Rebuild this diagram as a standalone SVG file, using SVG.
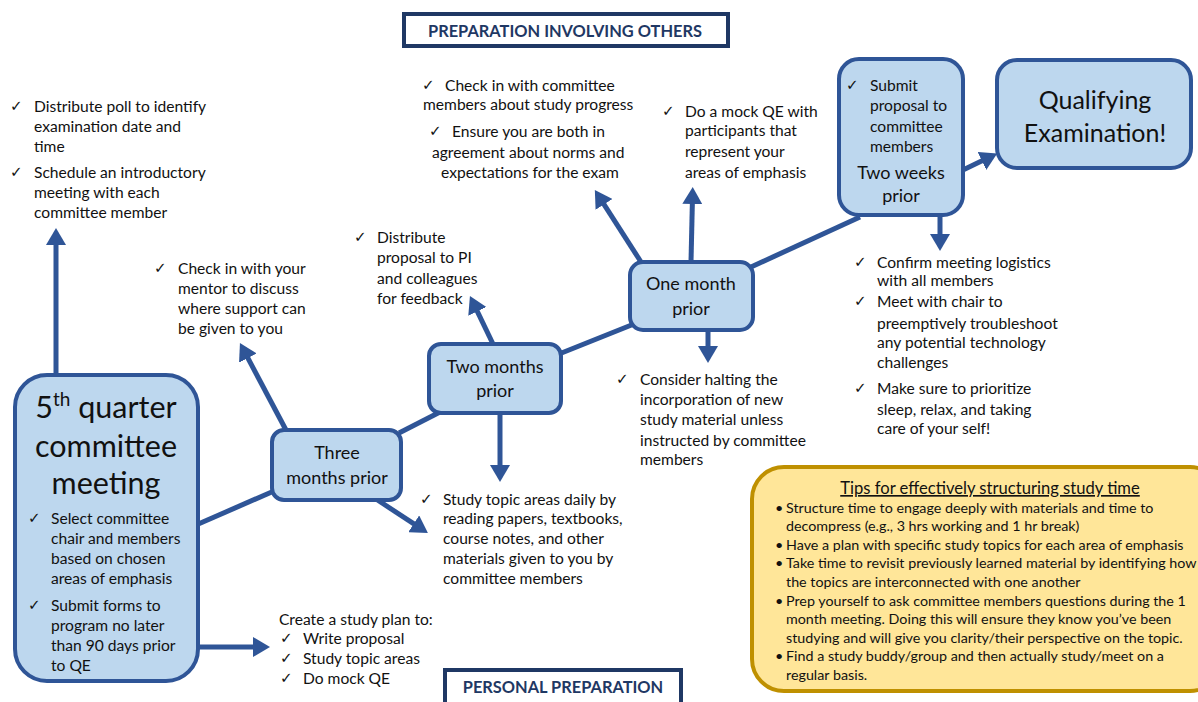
<svg xmlns="http://www.w3.org/2000/svg" width="1198" height="702" viewBox="0 0 1198 702">
<defs>
<style>
.node{fill:#BDD7EE;stroke:#2F5597;stroke-width:4}
.hdr{fill:#fff;stroke:#1F3864;stroke-width:4}
.hdrt{font-family:Lato,"Liberation Sans",sans-serif;font-weight:bold;font-size:16.4px;fill:#1F3864;text-anchor:middle}
.t{font-family:Lato,"Liberation Sans",sans-serif;font-size:15.6px;fill:#111}
.nt{font-family:Lato,"Liberation Sans",sans-serif;font-size:18px;fill:#111;text-anchor:middle}
.big{font-family:Lato,"Liberation Sans",sans-serif;font-size:30.5px;fill:#111;text-anchor:middle}
.qe{font-family:Lato,"Liberation Sans",sans-serif;font-size:25px;fill:#111;text-anchor:middle}
.tip{font-family:Lato,"Liberation Sans",sans-serif;font-size:14.3px;fill:#111}
.tiph{font-family:Lato,"Liberation Sans",sans-serif;font-size:16.6px;fill:#111;text-anchor:middle;text-decoration:underline}
.ck{font-family:"DejaVu Sans",sans-serif;font-size:15px;fill:#111}
.ln{stroke:#2F5597;stroke-width:5;fill:none}
.ar{stroke:#2F5597;stroke-width:5;fill:none;marker-end:url(#ah)}
</style>
<marker id="ah" markerUnits="userSpaceOnUse" markerWidth="20" markerHeight="20" refX="3" refY="10" orient="auto" viewBox="0 0 20 20">
<path d="M0,0 L17,10 L0,20 z" fill="#2F5597"/>
</marker>
</defs>

<g id="connectors">
<line class="ln" x1="196" y1="525" x2="274" y2="491"/>
<line class="ln" x1="399" y1="433" x2="442" y2="411"/>
<line class="ln" x1="559" y1="354" x2="634" y2="324"/>
<line class="ln" x1="751" y1="267" x2="860" y2="217"/>
<line class="ar" x1="56" y1="375" x2="56" y2="242"/>
<line class="ar" x1="286" y1="430" x2="246.5" y2="355.4"/>
<line class="ar" x1="493" y1="344" x2="476" y2="308.6"/>
<line class="ar" x1="500" y1="413" x2="500" y2="468"/>
<line class="ar" x1="376" y1="499" x2="416.2" y2="525.4"/>
<line class="ar" x1="196" y1="647" x2="256" y2="647"/>
<line class="ar" x1="641" y1="262" x2="602.4" y2="201.9"/>
<line class="ar" x1="691" y1="262" x2="692.4" y2="201"/>
<line class="ar" x1="708" y1="330" x2="708" y2="349"/>
<line class="ar" x1="940" y1="215" x2="940" y2="237"/>
<line class="ar" x1="963" y1="170" x2="984.6" y2="159.6"/>
</g>

<g id="header-others">
<rect class="hdr" x="404" y="14" width="324" height="32"/>
<text class="hdrt" x="565" y="37">PREPARATION INVOLVING OTHERS</text>
</g>

<g id="header-personal">
<rect class="hdr" x="445" y="670" width="236" height="40"/>
<text class="hdrt" x="563" y="693">PERSONAL PREPARATION</text>
</g>

<g id="node-5th">
<rect class="node" x="15" y="375" width="183" height="306" rx="32"/>
<text class="big" x="106" y="418">5<tspan style="font-size:19px" dy="-12">th</tspan><tspan dy="12"> quarter</tspan></text>
<text class="big" x="106" y="457">committee</text>
<text class="big" x="106" y="494">meeting</text>
<text class="ck" x="28" y="523">✓</text>
<text class="t" x="51" y="524">Select committee</text>
<text class="t" x="51" y="544">chair and members</text>
<text class="t" x="51" y="564">based on chosen</text>
<text class="t" x="51" y="584">areas of emphasis</text>
<text class="ck" x="28" y="610">✓</text>
<text class="t" x="51" y="611">Submit forms to</text>
<text class="t" x="51" y="631">program no later</text>
<text class="t" x="51" y="651">than 90 days prior</text>
<text class="t" x="51" y="671">to QE</text>
</g>

<g id="node-three">
<rect class="node" x="272" y="430" width="129" height="70" rx="12"/>
<text class="nt" x="337" y="459">Three</text>
<text class="nt" x="337" y="484">months prior</text>
</g>

<g id="node-two">
<rect class="node" x="429" y="344" width="132" height="69" rx="12"/>
<text class="nt" x="495" y="373">Two months</text>
<text class="nt" x="495" y="397">prior</text>
</g>

<g id="node-one">
<rect class="node" x="630" y="262" width="123" height="68" rx="13"/>
<text class="nt" x="691" y="290">One month</text>
<text class="nt" x="691" y="315">prior</text>
</g>

<g id="node-twoweeks">
<rect class="node" x="839" y="59" width="124" height="156" rx="20"/>
<text class="ck" x="846" y="90">✓</text>
<text class="t" x="870" y="91">Submit</text>
<text class="t" x="870" y="111">proposal to</text>
<text class="t" x="870" y="132">committee</text>
<text class="t" x="870" y="152">members</text>
<text class="nt" x="901" y="179">Two weeks</text>
<text class="nt" x="901" y="202">prior</text>
</g>

<g id="node-qe">
<rect class="node" x="997" y="60" width="194" height="108" rx="20"/>
<text class="qe" x="1095" y="109">Qualifying</text>
<text class="qe" x="1095" y="142">Examination!</text>
</g>

<g id="text-topleft">
<text class="ck" x="10" y="111">✓</text>
<text class="t" x="34" y="112">Distribute poll to identify</text>
<text class="t" x="34" y="132">examination date and</text>
<text class="t" x="34" y="152">time</text>
<text class="ck" x="10" y="177">✓</text>
<text class="t" x="34" y="178">Schedule an introductory</text>
<text class="t" x="34" y="198">meeting with each</text>
<text class="t" x="34" y="218">committee member</text>
</g>

<g id="text-mentor">
<text class="ck" x="154" y="273">✓</text>
<text class="t" x="178" y="274">Check in with your</text>
<text class="t" x="178" y="294">mentor to discuss</text>
<text class="t" x="178" y="314">where support can</text>
<text class="t" x="178" y="334">be given to you</text>
</g>

<g id="text-distribute">
<text class="ck" x="354" y="242">✓</text>
<text class="t" x="377" y="243">Distribute</text>
<text class="t" x="377" y="263">proposal to PI</text>
<text class="t" x="377" y="284">and colleagues</text>
<text class="t" x="377" y="304">for feedback</text>
</g>

<g id="text-checkin">
<text class="ck" x="422" y="90">✓</text>
<text class="t" x="445" y="91">Check in with committee</text>
<text class="t" x="423" y="110">members about study progress</text>
<text class="ck" x="429" y="136">✓</text>
<text class="t" x="452" y="137">Ensure you are both in</text>
<text class="t" x="432" y="158">agreement about norms and</text>
<text class="t" x="441" y="178">expectations for the exam</text>
</g>

<g id="text-mock">
<text class="ck" x="662" y="116">✓</text>
<text class="t" x="685" y="117">Do a mock QE with</text>
<text class="t" x="685" y="136">participants that</text>
<text class="t" x="685" y="157">represent your</text>
<text class="t" x="685" y="178">areas of emphasis</text>
</g>

<g id="text-confirm">
<text class="ck" x="854" y="267">✓</text>
<text class="t" x="877" y="268">Confirm meeting logistics</text>
<text class="t" x="877" y="286">with all members</text>
<text class="ck" x="854" y="306">✓</text>
<text class="t" x="877" y="307">Meet with chair to</text>
<text class="t" x="877" y="329">preemptively troubleshoot</text>
<text class="t" x="877" y="348">any potential technology</text>
<text class="t" x="877" y="368">challenges</text>
<text class="ck" x="854" y="393">✓</text>
<text class="t" x="877" y="394">Make sure to prioritize</text>
<text class="t" x="877" y="415">sleep, relax, and taking</text>
<text class="t" x="877" y="434">care of your self!</text>
</g>

<g id="text-consider">
<text class="ck" x="616" y="384">✓</text>
<text class="t" x="640" y="385">Consider halting the</text>
<text class="t" x="640" y="405">incorporation of new</text>
<text class="t" x="640" y="425">study material unless</text>
<text class="t" x="640" y="446">instructed by committee</text>
<text class="t" x="640" y="465">members</text>
</g>

<g id="text-study">
<text class="ck" x="420" y="504">✓</text>
<text class="t" x="443" y="505">Study topic areas daily by</text>
<text class="t" x="443" y="524">reading papers, textbooks,</text>
<text class="t" x="443" y="544">course notes, and other</text>
<text class="t" x="443" y="564">materials given to you by</text>
<text class="t" x="443" y="584">committee members</text>
</g>

<g id="text-plan">
<text class="t" x="279" y="625">Create a study plan to:</text>
<text class="ck" x="280" y="643">✓</text>
<text class="t" x="303" y="644">Write proposal</text>
<text class="ck" x="280" y="663">✓</text>
<text class="t" x="303" y="664">Study topic areas</text>
<text class="ck" x="280" y="683">✓</text>
<text class="t" x="303" y="684">Do mock QE</text>
</g>

<g id="tips">
<rect x="752" y="467" width="470" height="224" rx="32" fill="#FFE699" stroke="#BF9000" stroke-width="4"/>
<text class="tiph" x="990" y="494">Tips for effectively structuring study time</text>
<text class="tip" x="775" y="513">•</text>
<text class="tip" x="786" y="513">Structure time to engage deeply with materials and time to</text>
<text class="tip" x="786" y="531">decompress (e.g., 3 hrs working and 1 hr break)</text>
<text class="tip" x="775" y="550">•</text>
<text class="tip" x="786" y="550">Have a plan with specific study topics for each area of emphasis</text>
<text class="tip" x="775" y="568">•</text>
<text class="tip" x="786" y="568">Take time to revisit previously learned material by identifying how</text>
<text class="tip" x="786" y="587">the topics are interconnected with one another</text>
<text class="tip" x="775" y="606">•</text>
<text class="tip" x="786" y="606">Prep yourself to ask committee members questions during the 1</text>
<text class="tip" x="786" y="624">month meeting. Doing this will ensure they know you’ve been</text>
<text class="tip" x="786" y="643">studying and will give you clarity/their perspective on the topic.</text>
<text class="tip" x="775" y="661">•</text>
<text class="tip" x="786" y="661">Find a study buddy/group and then actually study/meet on a</text>
<text class="tip" x="786" y="680">regular basis.</text>
</g>
</svg>
